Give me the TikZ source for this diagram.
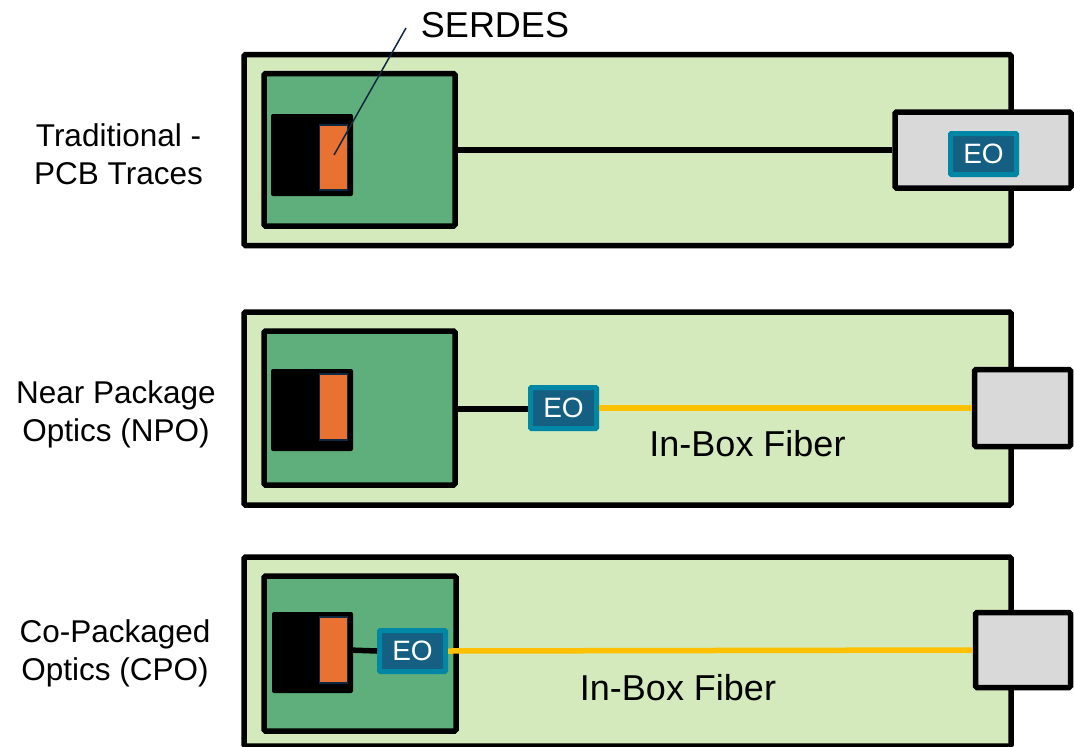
\documentclass[tikz,border=0pt]{standalone}
\usepackage{fontspec}
\setmainfont{Liberation Sans}
\definecolor{boardgreen}{HTML}{D4EABC}
\definecolor{pkggreen}{HTML}{5EAF7B}
\definecolor{serdesorange}{HTML}{E97132}
\definecolor{navyline}{HTML}{0E2841}
\definecolor{portgray}{HTML}{D9D9D9}
\definecolor{eoteal}{HTML}{0087A6}
\definecolor{eoblue}{HTML}{156082}
\definecolor{fiberyellow}{HTML}{FFC000}
\tikzset{
  board/.style={draw=black, line width=5.5pt, fill=boardgreen, rounded corners=1.5pt, inner sep=0pt},
  pkg/.style={draw=black, line width=5.5pt, fill=pkggreen, rounded corners=1.5pt, inner sep=0pt},
  chip/.style={fill=black, rounded corners=2pt, inner sep=0pt, minimum width=82pt, minimum height=82pt},
  serdes/.style={draw=navyline, line width=1.5pt, fill=serdesorange, inner sep=0pt, minimum width=28pt, minimum height=64pt},
  port/.style={draw=black, line width=5.5pt, fill=portgray, rounded corners=1.5pt, inner sep=0pt},
  eo/.style={draw=eoteal, line width=5pt, fill=eoblue, rounded corners=1pt, inner sep=0pt, minimum width=66pt, minimum height=41pt, text=white, font=\fontsize{28}{30}\selectfont},
  trace/.style={draw=black, line width=5.5pt},
  fiber/.style={draw=fiberyellow, line width=5.5pt},
  lbl/.style={anchor=base, align=center, font=\fontsize{31.5}{37.5}\selectfont},
  biglbl/.style={anchor=base, font=\fontsize{36}{40}\selectfont},
}
\begin{document}
\begin{tikzpicture}[x=1pt,y=-1pt]
\useasboundingbox (0,0) rectangle (1074,747);
\fill[white] (0,0) rectangle (1074,747);

% ---------- Panel 1: Traditional ----------
\node[board, minimum width=767pt, minimum height=191pt] (b1) at (627.5,150) {};
\node[pkg, minimum width=191pt, minimum height=152.5pt] (p1) at (359.5,149.75) {};
\node[chip] (c1) at (312,155) {};
\node[serdes, minimum height=65pt] (s1) at (333.5,157.5) {};
\node[port, minimum width=176pt, minimum height=76pt] (g1) at (983,150) {};
\node[eo] (e1) at (983.5,154) {EO};
\draw[trace] (p1.east |- 0,150) -- (g1.west |- 0,150);
\node[lbl] (l1) at (118.5,184) {Traditional -\\PCB Traces};
\node[biglbl] (serlbl) at (495,37) {SERDES};
\coordinate (serA) at (406,28);
\coordinate (serB) at (334,155);
\draw[navyline, line width=1.5pt] (serA) -- (serB);

% ---------- Panel 2: NPO ----------
\node[board, minimum width=767pt, minimum height=193pt] (b2) at (627.5,408.5) {};
\node[pkg, minimum width=191pt, minimum height=154pt] (p2) at (359.5,408) {};
\node[chip] (c2) at (312,410) {};
\node[serdes, minimum height=66pt] (s2) at (333.5,407) {};
\node[port, minimum width=96pt, minimum height=77pt] (g2) at (1022.5,408) {};
\node[eo] (e2) at (563.5,408) {EO};
\draw[trace] (p2.east |- 0,409) -- (e2.west |- 0,409);
\draw[fiber] (e2.east) -- (g2.west);
\node[lbl] (l2) at (116,441) {Near Package\\Optics (NPO)};
\node[biglbl] (f2) at (747.5,456.5) {In-Box Fiber};

% ---------- Panel 3: CPO ----------
\node[board, minimum width=767pt, minimum height=189pt] (b3) at (627.5,651.5) {};
\node[pkg, minimum width=192pt, minimum height=155pt] (p3) at (360,653.5) {};
\node[chip, minimum width=81pt, minimum height=81pt] (c3) at (312.5,652.5) {};
\node[serdes, minimum height=66pt] (s3) at (333.5,650) {};
\node[port, minimum width=95pt, minimum height=75pt] (g3) at (1023,650) {};
\node[eo] (e3) at (412.5,651) {EO};
\draw[trace] (s3.east) -- (e3.west);
\draw[fiber] (e3.east) -- (g3.west);
\node[lbl] (l3) at (115,680) {Co-Packaged\\Optics (CPO)};
\node[biglbl] (f3) at (678,700) {In-Box Fiber};
\end{tikzpicture}
\end{document}
